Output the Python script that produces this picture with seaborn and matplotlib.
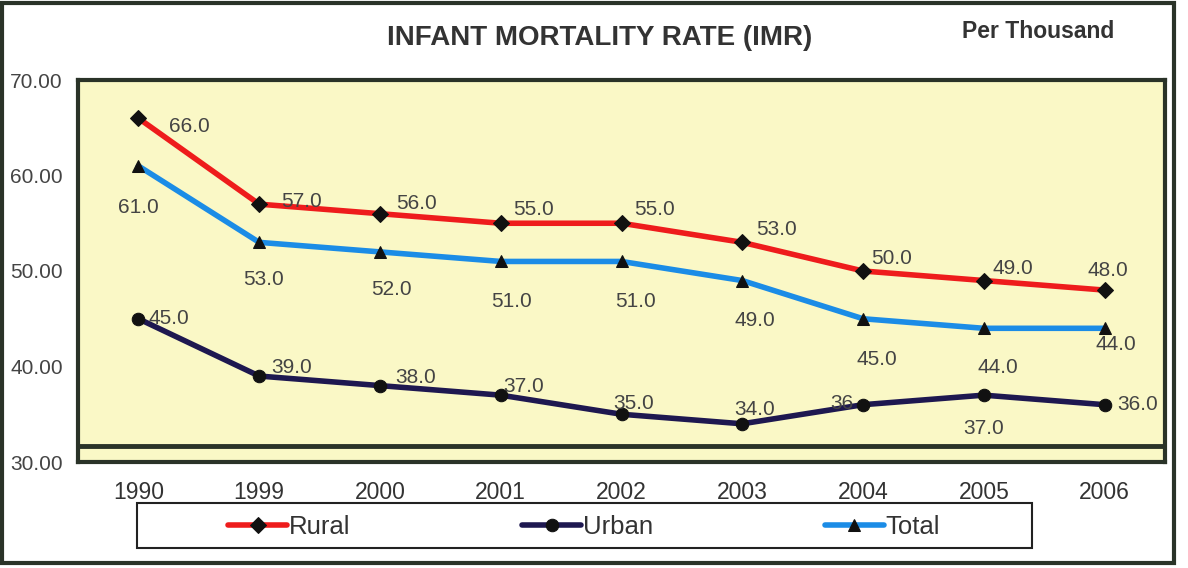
import matplotlib
matplotlib.use("Agg")
import matplotlib.pyplot as plt
import seaborn as sns
import pandas as pd
from matplotlib.patches import Rectangle

years = ["1990", "1999", "2000", "2001", "2002", "2003", "2004", "2005", "2006"]
rural = [66.0, 57.0, 56.0, 55.0, 55.0, 53.0, 50.0, 49.0, 48.0]
urban = [45.0, 39.0, 38.0, 37.0, 35.0, 34.0, 36.0, 37.0, 36.0]
total = [61.0, 53.0, 52.0, 51.0, 51.0, 49.0, 45.0, 44.0, 44.0]
yticks = [30, 40, 50, 60, 70]

sns.set_style("white")
plt.rcParams["font.family"] = ["Liberation Sans", "DejaVu Sans"]

fig = plt.figure(figsize=(11.88, 5.68), dpi=100)
ax = fig.add_axes([78/1188, 1-462/568, (1165-78)/1188, (462-80)/568])
ax.set_facecolor("#faf8c6")

x = list(range(len(years)))
series = [
    ("Rural", rural, "#ee1c1c", "D", 8),
    ("Urban", urban, "#1e1850", "o", 9),
    ("Total", total, "#1b8ce6", "^", 9),
]
for name, vals, col, mk, ms in series:
    df = pd.DataFrame({"x": x, "y": vals})
    sns.lineplot(data=df, x="x", y="y", ax=ax, color=col, lw=4, marker=mk,
                 markersize=ms, markerfacecolor="#111111", markeredgecolor="#111111",
                 label=name, legend=False, sort=False)

lab_kw = dict(fontsize=15, color="#444444", textcoords="offset points", va="center")

rural_off = [(22, -6), (16, 2), (12, 7), (9, 10), (9, 10), (10, 9), (6, 9), (6, 9), (-12, 14)]
for i, v in enumerate(rural):
    ax.annotate(f"{v:.1f}", (i, v), xytext=rural_off[i], ha="left", **lab_kw)

total_off = [(0, -30), (3, -27), (8, -27), (8, -29), (10, -29), (9, -29), (10, -29), (10, -28), (8, -12)]
for i, v in enumerate(total):
    ax.annotate(f"{v:.1f}", (i, v), xytext=total_off[i], ha="center", **lab_kw)

urban_off = [(7, 0), (9, 6), (11, 6), (2, 6), (-6, 8), (-6, 10), (-7, 1), (0, -24), (9, 0)]
for i, v in enumerate(urban):
    txt = f"{v:.0f}" if i == 6 else f"{v:.1f}"
    ha = "right" if i == 6 else ("center" if i == 7 else "left")
    ax.annotate(txt, (i, v), xytext=urban_off[i], ha=ha, **lab_kw)

ax.set_xlim(-0.5, len(years) - 0.5)
ax.set_ylim(yticks[0], yticks[-1])
ax.set_xticks(x)
ax.set_xticklabels(years, fontsize=16.5, color="#333333")
ax.set_yticks(yticks)
ax.set_yticklabels([f"{t:.2f}" for t in yticks], fontsize=15, color="#444444")
ax.tick_params(axis="x", length=0, pad=14)
ax.tick_params(axis="y", length=0, pad=11)
ax.set_xlabel("")
ax.set_ylabel("")
ax.axhline(31.7, color="#2a3328", lw=3.5)
for s in ax.spines.values():
    s.set_visible(True)
    s.set_color("#2a3328")
    s.set_linewidth(3)

fig.text(600/1188, 1-38/568, "INFANT MORTALITY RATE (IMR)", ha="center", va="center",
         fontsize=20, fontweight="bold", color="#333333")
fig.text(1038/1188, 1-32/568, "Per Thousand", ha="center", va="center",
         fontsize=16.5, fontweight="bold", color="#333333")

handles, labels = ax.get_legend_handles_labels()
leg = fig.legend(handles, labels, loc="center", ncol=3,
                 bbox_to_anchor=(584/1188, 1-527/568),
                 frameon=False, fontsize=18.5, handlelength=2.3,
                 handletextpad=0.05, columnspacing=6.7, borderaxespad=0)
for t in leg.get_texts():
    t.set_color("#333333")

fig.patches.append(Rectangle((137/1188, 1-548/568), 895/1188, 45/568, transform=fig.transFigure,
                             fill=False, edgecolor="#222222", lw=1.5))
fig.patches.append(Rectangle((2/1188, 5/568), 1172/1188, 560/568, transform=fig.transFigure,
                             fill=False, edgecolor="#2a3328", lw=3))

fig.savefig("out.png", dpi=100, facecolor="white")
